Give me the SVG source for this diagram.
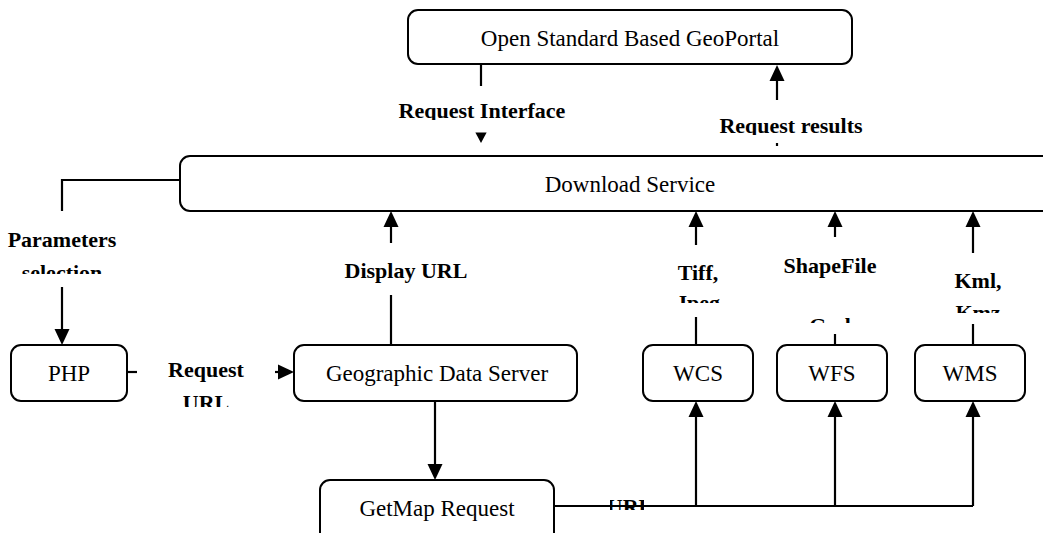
<svg xmlns="http://www.w3.org/2000/svg" xmlns:xlink="http://www.w3.org/1999/xlink" width="1043" height="533" viewBox="0 0 1043 533">
  <style>
    .box { fill: #ffffff; stroke: #000000; stroke-width: 2; }
    .node-text { font-family: 'Liberation Serif', 'DejaVu Serif', serif; font-size: 23px; fill: #000000; text-anchor: middle; }
    .label { font-family: 'Liberation Serif', 'DejaVu Serif', serif; font-size: 22px; font-weight: bold; fill: #000000; text-anchor: middle; }
    .wire { fill: none; stroke: #000000; stroke-width: 2.2; }
    .head { fill: #000000; stroke: none; }
  </style>
  <defs>
    <!-- arrowhead with its tip at the origin, pointing down -->
    <path id="head" class="head" d="M0,0 L-7.5,-16 L7.5,-16 Z"/>
    <clipPath id="clip-req-if"><rect x="380" y="90" width="200" height="30"/></clipPath>
    <clipPath id="clip-req-res"><rect x="700" y="105" width="180" height="30"/></clipPath>
    <clipPath id="clip-param"><rect x="0" y="222" width="130" height="52"/></clipPath>
    <clipPath id="clip-req-url"><rect x="150" y="352" width="115" height="55"/></clipPath>
    <clipPath id="clip-tiff"><rect x="660" y="255" width="80" height="48"/></clipPath>
    <clipPath id="clip-shape"><rect x="770" y="250" width="120" height="73"/></clipPath>
    <clipPath id="clip-kml"><rect x="940" y="262" width="80" height="51"/></clipPath>
    <clipPath id="clip-url"><rect x="610" y="498" width="34" height="12"/></clipPath>
  </defs>

  <!-- nodes -->
  <g id="geoportal">
    <rect class="box" x="408" y="10" width="444" height="54" rx="10"/>
    <text class="node-text" x="630" y="46" font-size="24.5" font-family="Liberation Serif">Open Standard Based GeoPortal</text>
  </g>
  <g id="download-service">
    <rect class="box" x="180" y="156" width="890" height="55" rx="10"/>
    <text class="node-text" x="630" y="192" font-family="Liberation Serif">Download Service</text>
  </g>
  <g id="php">
    <rect class="box" x="11" y="345" width="116" height="56" rx="10"/>
    <text class="node-text" x="69" y="381" font-family="Liberation Serif">PHP</text>
  </g>
  <g id="geo-data-server">
    <rect class="box" x="294" y="345" width="283" height="56" rx="10"/>
    <text class="node-text" x="437" y="381" font-family="Liberation Serif">Geographic Data Server</text>
  </g>
  <g id="wcs">
    <rect class="box" x="643" y="345" width="110" height="56" rx="10"/>
    <text class="node-text" x="698" y="381" font-family="Liberation Serif">WCS</text>
  </g>
  <g id="wfs">
    <rect class="box" x="777" y="345" width="110" height="56" rx="10"/>
    <text class="node-text" x="832" y="381" font-family="Liberation Serif">WFS</text>
  </g>
  <g id="wms">
    <rect class="box" x="915" y="345" width="110" height="56" rx="10"/>
    <text class="node-text" x="970" y="381" font-family="Liberation Serif">WMS</text>
  </g>
  <g id="getmap-request">
    <rect class="box" x="320" y="480" width="234" height="70" rx="10"/>
    <text class="node-text" x="437" y="516" font-family="Liberation Serif">GetMap Request</text>
  </g>

  <!-- connectors -->
  <g id="connectors">
    <!-- portal -> download service -->
    <line class="wire" x1="481" y1="64" x2="481" y2="86"/>
    <use xlink:href="#head" transform="translate(481,143) scale(0.75,0.65)"/>
    <!-- download service -> portal -->
    <line class="wire" x1="777" y1="80" x2="777" y2="100"/>
    <use xlink:href="#head" transform="translate(777,65) rotate(180)"/>
    <line class="wire" x1="777" y1="143" x2="777" y2="146"/>
    <!-- download service -> PHP -->
    <polyline class="wire" points="180,180 62,180 62,211"/>
    <line class="wire" x1="62" y1="287" x2="62" y2="332"/>
    <use xlink:href="#head" transform="translate(62,345)"/>
    <!-- PHP -> data server -->
    <line class="wire" x1="127" y1="372" x2="137" y2="372"/>
    <line class="wire" x1="275" y1="372" x2="282" y2="372"/>
    <use xlink:href="#head" transform="translate(294,372) rotate(-90)"/>
    <!-- data server -> download service -->
    <line class="wire" x1="391" y1="345" x2="391" y2="295"/>
    <line class="wire" x1="391" y1="243" x2="391" y2="224"/>
    <use xlink:href="#head" transform="translate(391,211) rotate(180)"/>
    <!-- data server -> GetMap request -->
    <line class="wire" x1="435" y1="401" x2="435" y2="467"/>
    <use xlink:href="#head" transform="translate(435,480)"/>
    <!-- services -> download service -->
    <line class="wire" x1="696" y1="345" x2="696" y2="317"/>
    <line class="wire" x1="696" y1="245" x2="696" y2="224"/>
    <use xlink:href="#head" transform="translate(696,211) rotate(180)"/>
    <line class="wire" x1="835" y1="345" x2="835" y2="334"/>
    <line class="wire" x1="835" y1="237" x2="835" y2="224"/>
    <use xlink:href="#head" transform="translate(835,211) rotate(180)"/>
    <line class="wire" x1="973" y1="345" x2="973" y2="324"/>
    <line class="wire" x1="973" y1="253" x2="973" y2="224"/>
    <use xlink:href="#head" transform="translate(973,211) rotate(180)"/>
    <!-- GetMap request -> services -->
    <polyline class="wire" points="554,506 973,506"/>
    <line class="wire" x1="696" y1="506" x2="696" y2="414"/>
    <use xlink:href="#head" transform="translate(696,401) rotate(180)"/>
    <line class="wire" x1="835" y1="506" x2="835" y2="414"/>
    <use xlink:href="#head" transform="translate(835,401) rotate(180)"/>
    <line class="wire" x1="973" y1="506" x2="973" y2="414"/>
    <use xlink:href="#head" transform="translate(973,401) rotate(180)"/>
  </g>

  <!-- connector labels -->
  <g id="labels" font-family="Liberation Serif">
    <text class="label" x="482" y="118" clip-path="url(#clip-req-if)">Request Interface</text>
    <text class="label" x="791" y="133" clip-path="url(#clip-req-res)">Request results</text>
    <g clip-path="url(#clip-param)">
      <text class="label" x="62" y="247">Parameters</text>
      <text class="label" x="62" y="280">selection</text>
    </g>
    <g clip-path="url(#clip-req-url)">
      <text class="label" x="206" y="377">Request</text>
      <text class="label" x="206" y="410">URL</text>
    </g>
    <text class="label" x="406" y="278">Display URL</text>
    <g clip-path="url(#clip-tiff)">
      <text class="label" x="698" y="280">Tiff,</text>
      <text class="label" x="698" y="310">Jpeg</text>
    </g>
    <g clip-path="url(#clip-shape)">
      <text class="label" x="830" y="273">ShapeFile</text>
      <text class="label" x="830" y="333">Gml</text>
    </g>
    <g clip-path="url(#clip-kml)">
      <text class="label" x="978" y="288">Kml,</text>
      <text class="label" x="978" y="320">Kmz</text>
    </g>
    <text class="label" x="630" y="514" clip-path="url(#clip-url)">URL</text>
  </g>
</svg>
